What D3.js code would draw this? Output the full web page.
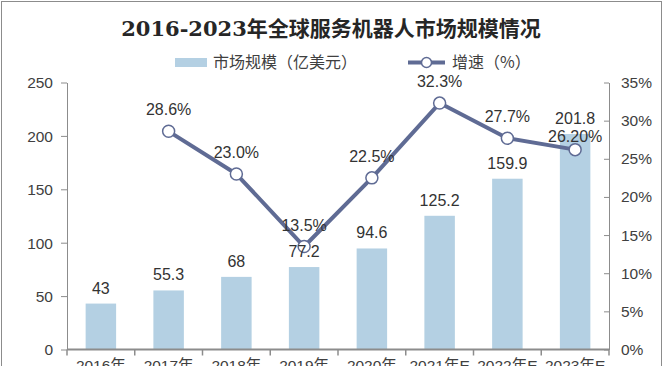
<!DOCTYPE html>
<meta charset="utf-8">
<title>2016-2023年全球服务机器人市场规模情况</title>
<style>

body {
  margin: 0px;
  background: #fff;
}

svg {
  display: block;
  font-family: "Liberation Sans", Arial, "Noto Sans CJK SC", sans-serif;
}

.axis path, .axis line {
  stroke: #8c8c8c;
}

.axis text {
  fill: #404040;
  font-size: 15.5px;
}

.label {
  fill: #333;
  font-size: 16px;
  text-anchor: middle;
}

</style>

<script src="https://d3js.org/d3.v7.min.js"></script>

<body>
<script>

var width = 662, height = 366;

// data
var years = ["2016年", "2017年", "2018年", "2019年", "2020年", "2021年E", "2022年E", "2023年E"];
var scale = [43, 55.3, 68, 77.2, 94.6, 125.2, 159.9, 201.8];
var growth = [null, 28.6, 23.0, 13.5, 22.5, 32.3, 27.7, 26.2];
var growthText = ["", "28.6%", "23.0%", "13.5%", "22.5%", "32.3%", "27.7%", "26.20%"];
var leftTicks = [0, 50, 100, 150, 200, 250];
var rightTicks = [0, 5, 10, 15, 20, 25, 30, 35];

var barColor = "#b4d0e3",
    lineColor = "#5f6b94";

var margin = {left: 67, right: 53, top: 82.5, bottom: 16.5};

var svg = d3.select("body").append("svg")
    .attr("width", width)
    .attr("height", height);

// outer frame
svg.append("rect")
    .attr("x", 1.5).attr("y", 1.5)
    .attr("width", width - 2).attr("height", height + 10)
    .attr("fill", "none")
    .attr("stroke", "#8c8c8c");

var x = d3.scaleBand()
    .domain(years)
    .range([margin.left, width - margin.right])
    .paddingInner(0.55)
    .paddingOuter(0.275);

var y = d3.scaleLinear()
    .domain([0, 250])
    .range([height - margin.bottom, margin.top]);

var y2 = d3.scaleLinear()
    .domain([0, 35])
    .range([height - margin.bottom, margin.top]);

// Title
svg.append("text")
    .attr("x", width / 2)
    .attr("y", 36)
    .attr("text-anchor", "middle")
    .style("font-family", "'DejaVu Serif', 'Noto Sans CJK SC', serif")
    .style("font-size", "21px")
    .style("font-weight", "bold")
    .style("fill", "#262626")
    .text("2016-2023年全球服务机器人市场规模情况");

// Legend
var legend = svg.append("g").style("font-size", "16px").style("fill", "#404040");
legend.append("rect")
    .attr("x", 175).attr("y", 58)
    .attr("width", 32).attr("height", 9)
    .attr("fill", barColor);
legend.append("text")
    .attr("x", 213).attr("y", 68)
    .style("font-family", "'Noto Sans CJK SC', sans-serif")
    .text("市场规模（亿美元）");
legend.append("line")
    .attr("x1", 408).attr("x2", 445)
    .attr("y1", 62.5).attr("y2", 62.5)
    .attr("stroke", lineColor)
    .attr("stroke-width", 4);
legend.append("circle")
    .attr("cx", 426.5).attr("cy", 62.5).attr("r", 5)
    .attr("fill", "#fff")
    .attr("stroke", lineColor)
    .attr("stroke-width", 1.5);
legend.append("text")
    .attr("x", 452).attr("y", 68)
    .style("font-family", "'Noto Sans CJK SC', sans-serif")
    .text("增速（%）");

// Bars
svg.selectAll("rect.bar")
    .data(scale)
  .enter().append("rect")
    .attr("class", "bar")
    .attr("x", function(d, i) { return x(years[i]); })
    .attr("y", function(d) { return y(d); })
    .attr("width", x.bandwidth())
    .attr("height", function(d) { return y(0) - y(d); })
    .attr("fill", barColor);

// Axes
svg.append("g")
    .attr("class", "axis")
    .attr("transform", "translate(" + margin.left + ",0)")
    .call(d3.axisLeft(y).tickValues(leftTicks).tickSizeOuter(0).tickPadding(8))
    .call(function(g) { g.selectAll("text").attr("dy", "0.35em"); });

svg.append("g")
    .attr("class", "axis")
    .attr("transform", "translate(" + (width - margin.right) + ",0)")
    .call(d3.axisRight(y2).tickValues(rightTicks).tickSizeOuter(0).tickSizeInner(-5).tickPadding(12)
      .tickFormat(function(d) { return d + "%"; }));

var xAxis = svg.append("g")
    .attr("class", "axis")
    .attr("transform", "translate(0," + y(0) + ")");
xAxis.append("line")
    .attr("x1", margin.left).attr("x2", width - margin.right)
    .attr("stroke", "#7f7f7f").attr("stroke-width", 2);
xAxis.selectAll("line.tick")
    .data(d3.range(years.length + 1))
  .enter().append("line")
    .attr("class", "tick")
    .attr("x1", function(i) { return margin.left + i * x.step(); })
    .attr("x2", function(i) { return margin.left + i * x.step(); })
    .attr("y1", 0).attr("y2", 6)
    .attr("stroke", "#7f7f7f").attr("stroke-width", 1.5);
// year labels sit partly below the frame, as in the original picture
xAxis.selectAll("text")
    .data(years)
  .enter().append("text")
    .attr("x", function(d) { return x(d) + x.bandwidth() / 2; })
    .attr("y", 21)
    .attr("text-anchor", "middle")
    .style("font-family", "'Liberation Sans', 'Noto Sans CJK SC', sans-serif")
    .text(function(d) { return d; });

// Growth line
var pts = growth.map(function(d, i) { return {v: d, i: i}; })
    .filter(function(d) { return d.v !== null; });

var line = d3.line()
    .x(function(d) { return x(years[d.i]) + x.bandwidth() / 2; })
    .y(function(d) { return y2(d.v); });

svg.append("path")
    .datum(pts)
    .attr("d", line)
    .attr("fill", "none")
    .attr("stroke", lineColor)
    .attr("stroke-width", 4)
    .attr("stroke-linejoin", "round");

svg.selectAll("circle.pt")
    .data(pts)
  .enter().append("circle")
    .attr("class", "pt")
    .attr("cx", function(d) { return x(years[d.i]) + x.bandwidth() / 2; })
    .attr("cy", function(d) { return y2(d.v); })
    .attr("r", 6)
    .attr("fill", "#fff")
    .attr("stroke", lineColor)
    .attr("stroke-width", 1.5);

// Value labels
svg.selectAll("text.barlabel")
    .data(scale)
  .enter().append("text")
    .attr("class", "label barlabel")
    .attr("x", function(d, i) { return x(years[i]) + x.bandwidth() / 2; })
    .attr("y", function(d) { return y(d) - 10; })
    .text(function(d) { return d; });

svg.selectAll("text.pctlabel")
    .data(pts)
  .enter().append("text")
    .attr("class", "label pctlabel")
    .attr("x", function(d) { return x(years[d.i]) + x.bandwidth() / 2; })
    .attr("y", function(d) { return y2(d.v) - (d.i === years.length - 1 ? 8 : 16); })
    .text(function(d) { return growthText[d.i]; });

</script>
